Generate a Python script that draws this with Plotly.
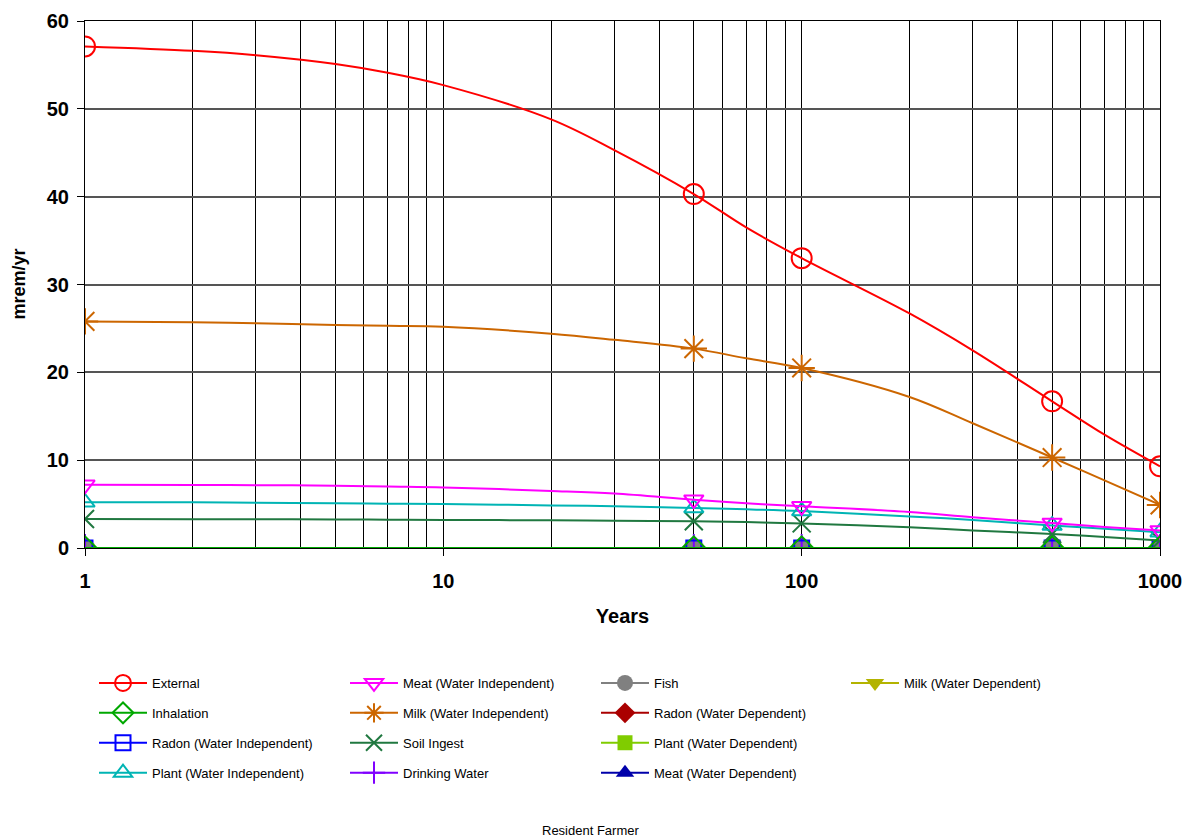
import plotly.graph_objects as go

# Time points read along the curves, and the time points carrying markers
years_line = [1, 2, 3, 5, 7, 10, 20, 30, 50, 70, 100, 200, 300, 500, 700, 1000]
years_mark = [1, 50, 100, 500, 1000]

external_line = [57.1, 56.6, 56.1, 55.1, 54.1, 52.7, 48.8, 45.3, 40.3, 36.5, 33.0, 26.7, 22.5, 16.7, 12.9, 9.3]
milk_wi_line = [25.8, 25.7, 25.6, 25.4, 25.3, 25.2, 24.4, 23.7, 22.7, 21.6, 20.5, 17.2, 14.2, 10.3, 7.7, 4.9]
meat_wi_line = [7.2, 7.18, 7.15, 7.1, 7.0, 6.9, 6.5, 6.2, 5.5, 5.1, 4.75, 4.1, 3.5, 2.85, 2.4, 2.0]
plant_wi_line = [5.2, 5.2, 5.15, 5.1, 5.05, 5.0, 4.85, 4.75, 4.55, 4.4, 4.2, 3.6, 3.2, 2.55, 2.2, 1.8]
soil_ingest_line = [3.3, 3.28, 3.27, 3.25, 3.22, 3.2, 3.15, 3.1, 3.05, 2.95, 2.8, 2.35, 2.0, 1.6, 1.25, 0.85]
zero_line = [0.0] * 16

external = [57.1, 40.3, 33.0, 16.7, 9.3]
inhalation = [0.0, 0.0, 0.0, 0.0, 0.0]
radon_wi = [0.0, 0.0, 0.0, 0.0, 0.0]
plant_wi = [5.2, 4.55, 4.2, 2.55, 1.8]
meat_wi = [7.2, 5.5, 4.75, 2.85, 2.0]
milk_wi = [25.8, 22.7, 20.5, 10.3, 4.9]
soil_ingest = [3.3, 3.05, 2.8, 1.6, 0.85]
drinking_water = [0.0, 0.0, 0.0, 0.0, 0.0]
fish = [0.0, 0.0, 0.0, 0.0, 0.0]
radon_wd = [0.0, 0.0, 0.0, 0.0, 0.0]
plant_wd = [0.0, 0.0, 0.0, 0.0, 0.0]
meat_wd = [0.0, 0.0, 0.0, 0.0, 0.0]
milk_wd = [0.0, 0.0, 0.0, 0.0, 0.0]

x_tick_vals = [1, 10, 100, 1000]
x_tick_text = ["1", "10", "100", "1000"]
x_minor_vals = [2, 3, 4, 5, 6, 7, 8, 9, 20, 30, 40, 50, 60, 70, 80, 90,
                200, 300, 400, 500, 600, 700, 800, 900]
y_tick_vals = [0, 10, 20, 30, 40, 50, 60]

# name, curve values, marker values, color, symbol, size, legend column
series = [
    ("External", external_line, external, "#FF0000", "circle-open", 20, "legend"),
    ("Inhalation", zero_line, inhalation, "#00A800", "diamond-open", 18, "legend"),
    ("Radon (Water Independent)", zero_line, radon_wi, "#0000FF", "square-open", 15, "legend"),
    ("Plant (Water Independent)", plant_wi_line, plant_wi, "#00B4B4", "triangle-up-open", 17, "legend"),
    ("Meat (Water Independent)", meat_wi_line, meat_wi, "#FF00FF", "triangle-down-open", 17, "legend2"),
    ("Milk (Water Independent)", milk_wi_line, milk_wi, "#CC6600", "asterisk-open", 22, "legend2"),
    ("Soil Ingest", soil_ingest_line, soil_ingest, "#207840", "x-thin-open", 18, "legend2"),
    ("Drinking Water", zero_line, drinking_water, "#8000FF", "cross-thin-open", 20, "legend2"),
    ("Fish", zero_line, fish, "#808080", "circle", 18, "legend3"),
    ("Radon (Water Dependent)", zero_line, radon_wd, "#AA0000", "diamond", 18, "legend3"),
    ("Plant (Water Dependent)", zero_line, plant_wd, "#80CC00", "square", 15, "legend3"),
    ("Meat (Water Dependent)", zero_line, meat_wd, "#0000AA", "triangle-up", 17, "legend3"),
    ("Milk (Water Dependent)", zero_line, milk_wd, "#B3B300", "triangle-down", 17, "legend4"),
]

fig = go.Figure()
draw_order = [12, 11, 10, 9, 8, 7, 2, 6, 3, 4, 1, 5, 0]


def marker_style(color, sym, size):
    open_sym = sym.endswith("open")
    return dict(symbol=sym, size=size, color=color,
                line=dict(color=color, width=2 if open_sym else 0))


# plotted curves and markers
for i in draw_order:
    name, curve, marks, color, sym, size, leg = series[i]
    fig.add_trace(go.Scatter(
        x=years_line, y=curve, mode="lines", name=name, showlegend=False,
        line=dict(color=color, width=2, shape="spline", smoothing=1.0),
        legendgroup=name, hoverinfo="skip", cliponaxis=True,
    ))
    fig.add_trace(go.Scatter(
        x=years_mark, y=marks, mode="markers", name=name, showlegend=False,
        marker=marker_style(color, sym, size), legendgroup=name, cliponaxis=True,
    ))

# legend entries (line + marker) in four columns
for i, (name, curve, marks, color, sym, size, leg) in enumerate(series):
    fig.add_trace(go.Scatter(
        x=[None], y=[None], mode="lines+markers", name=name,
        line=dict(color=color, width=2),
        marker=marker_style(color, sym, size),
        legend=leg, legendgroup=name, legendrank=i + 1, showlegend=True,
    ))

W, H = 1191, 838
L, R, T, B = 85, 1160, 21, 548
FONT = "Liberation Sans, Arial"

leg_common = dict(
    xref="container", yref="container", yanchor="top", xanchor="left",
    orientation="v", font=dict(family=FONT, size=13, color="#000"),
    bgcolor="rgba(0,0,0,0)", borderwidth=0, itemwidth=48, tracegroupgap=10,
    itemsizing="trace",
)
col_x = [94, 345, 596, 846]
ytop = 1 - 668 / H

fig.update_layout(
    width=W, height=H,
    margin=dict(l=L, r=W - R, t=T, b=H - B, pad=0, autoexpand=False),
    paper_bgcolor="white", plot_bgcolor="white",
    font=dict(family=FONT, color="#000"),
    showlegend=True,
    legend=dict(x=col_x[0] / W, y=ytop, **leg_common),
    legend2=dict(x=col_x[1] / W, y=ytop, **leg_common),
    legend3=dict(x=col_x[2] / W, y=ytop, **leg_common),
    legend4=dict(x=col_x[3] / W, y=ytop, **leg_common),
    xaxis=dict(
        type="log", range=[0, 3],
        tickvals=x_tick_vals, ticktext=x_tick_text,
        tickfont=dict(size=20, family=FONT, color="#000", weight="bold"),
        ticks="outside", ticklen=7, tickcolor="#000", tickwidth=1,
        ticklabelstandoff=8,
        showgrid=True, gridcolor="#000", gridwidth=1,
        minor=dict(tickvals=x_minor_vals,
                   showgrid=True, gridcolor="#000", gridwidth=1, ticks=""),
        showline=True, linecolor="#000", linewidth=1, mirror=True,
        zeroline=False,
        title=dict(text="<b>Years</b>", font=dict(size=20, family=FONT, color="#000"),
                   standoff=17),
    ),
    yaxis=dict(
        range=[0, 60], tickvals=y_tick_vals,
        tickfont=dict(size=20, family=FONT, color="#000", weight="bold"),
        ticks="outside", ticklen=7, tickcolor="#000", tickwidth=1,
        ticklabelstandoff=4,
        showgrid=True, gridcolor="#555", gridwidth=1.5,
        showline=True, linecolor="#000", linewidth=1, mirror=True,
        zeroline=False,
    ),
    annotations=[
        dict(
            text="<b>mrem/yr</b>", xref="paper", yref="paper",
            x=(18 - L) / (R - L), y=0.5, textangle=-90,
            showarrow=False, xanchor="center", yanchor="middle",
            font=dict(size=18, family=FONT, color="#000"),
        ),
        dict(
            text="Resident Farmer", xref="paper", yref="paper",
            x=(590 - L) / (R - L), y=(B - 830) / (B - T),
            showarrow=False, xanchor="center", yanchor="middle",
            font=dict(size=13, family=FONT, color="#000"),
        ),
    ],
)

fig.write_html("out.html", config={"displayModeBar": False},
               post_script="document.body.style.margin='0px';")
